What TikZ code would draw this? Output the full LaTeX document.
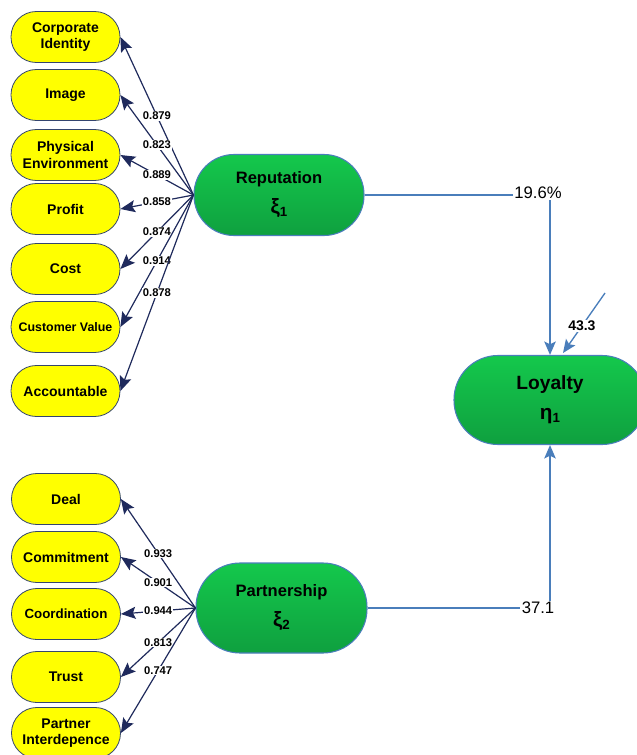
\documentclass[tikz,border=0pt]{standalone}
\usepackage{fontspec}
\setmainfont{Liberation Sans}
\usetikzlibrary{arrows.meta}
\definecolor{ylw}{HTML}{FFFF00}
\definecolor{ybord}{HTML}{34456E}
\definecolor{navy}{HTML}{1F2A5C}
\definecolor{stb}{HTML}{4A7EBB}
\definecolor{gtop}{HTML}{14C84C}
\definecolor{gbot}{HTML}{0FA03F}
\newcommand{\grk}[2]{{\fontsize{15.5}{22.5}\selectfont #1}\raisebox{-0.25ex}{\fontsize{10}{12}\selectfont #2}}
\begin{document}
\begin{tikzpicture}[x=0.75pt,y=-0.75pt,
  ind/.style={draw=ybord, line width=0.6pt, fill=ylw, rounded corners=19pt,
    minimum width=81.75pt, minimum height=38.25pt, inner sep=0pt, align=center,
    font=\fontsize{10.5}{12.5}\selectfont\bfseries},
  lat/.style={draw=stb, line width=0.8pt, top color=gtop, bottom color=gbot,
    align=center, inner sep=0pt, font=\fontsize{12.4}{22.5}\selectfont\bfseries},
  load/.style={draw=navy, line width=0.9pt, -{Stealth[length=11pt,width=9pt,inset=2pt]}},
  lbl/.style={fill=white, inner sep=0.6pt, font=\fontsize{8.4}{9}\selectfont\bfseries},
  pth/.style={draw=stb, line width=1.5pt},
  parr/.style={pth, -{Stealth[length=10pt,width=8.5pt,inset=2pt]}},
  val/.style={inner sep=1pt, font=\fontsize{12.5}{14}\selectfont}
]
\useasboundingbox (0,0) rectangle (636,755);

% indicators (reputation)
\node[ind] (ci) at (65.5,37) {Corporate\\Identity};
\node[ind] (im) at (65.5,95) {Image};
\node[ind] (pe) at (65.5,155) {Physical\\Environment};
\node[ind] (pr) at (65.5,209) {Profit};
\node[ind] (co) at (65.5,269) {Cost};
\node[ind, font=\fontsize{9.3}{11}\selectfont\bfseries] (cv) at (65.5,327) {Customer Value};
\node[ind] (ac) at (65.5,391) {Accountable};

% indicators (partnership)
\node[ind] (de) at (66,499) {Deal};
\node[ind] (cm) at (66,557) {Commitment};
\node[ind, font=\fontsize{10}{12}\selectfont\bfseries] (cd) at (66,614) {Coordination};
\node[ind] (tr) at (66,677) {Trust};
\node[ind] (pi) at (66,733) {Partner\\Interdepence};

% latent variables
\node[lat, minimum width=127.5pt, minimum height=60.75pt, rounded corners=30pt] (rep) at (279,195) {Reputation\\\grk{ξ}{1}};
\node[lat, minimum width=128.25pt, minimum height=67.5pt, rounded corners=33pt] (par) at (281.5,608) {Partnership\\\grk{ξ}{2}};
\node[lat, minimum width=144pt, minimum height=66.75pt, rounded corners=33pt,
  font=\fontsize{14.4}{22.5}\selectfont\bfseries] (loy) at (550,400) {Loyalty\\\grk{η}{1}};

% loadings
\draw[load] (rep.west) -- node[lbl] {0.879} (ci.east);
\draw[load] (rep.west) -- node[lbl] {0.823} (im.east);
\draw[load] (rep.west) -- node[lbl] {0.889} (pe.east);
\draw[load] (rep.west) -- node[lbl] {0.858} (pr.east);
\draw[load] (rep.west) -- node[lbl] {0.874} (co.east);
\draw[load] (rep.west) -- node[lbl] {0.914} (cv.east);
\draw[load] (rep.west) -- node[lbl] {0.878} (ac.east);

\draw[load] (par.west) -- node[lbl] {0.933} (de.east);
\draw[load] (par.west) -- node[lbl] {0.901} (cm.east);
\draw[load] (par.west) -- node[lbl] {0.944} (cd.east);
\draw[load] (par.west) -- node[lbl] {0.813} (tr.east);
\draw[load] (par.west) -- node[lbl] {0.747} (pi.east);

% structural paths
\node[val] (v1) at (538,193) {19.6\%};
\node[val] (v2) at (538,608) {37.1};
\draw[pth] (rep.east) -- (v1.west |- rep.east);
\draw[parr] (v1.south -| loy.north) -- (loy.north);
\draw[pth] (par.east) -- (v2.west |- par.east);
\draw[parr] (v2.north -| loy.south) -- (loy.south);

% error term
\coordinate (ea) at (605,293);
\coordinate (eb) at (563,353);
\draw[draw=stb, line width=1pt, -{Stealth[length=10pt,width=8.5pt,inset=2pt]}] (ea) -- node[pos=0.55, fill=white, inner sep=1pt, font=\fontsize{10.5}{12}\selectfont\bfseries] {43.3} (eb);
\end{tikzpicture}
\end{document}
